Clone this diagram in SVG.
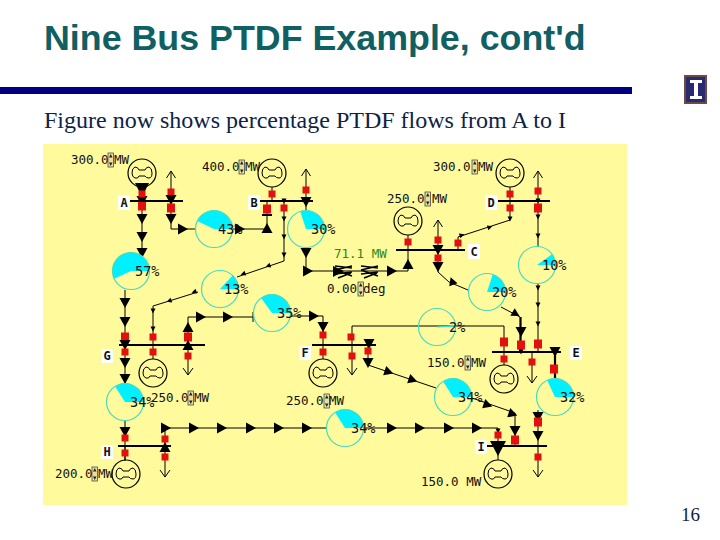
<svg xmlns="http://www.w3.org/2000/svg" width="720" height="540" viewBox="0 0 720 540">
<style>
.t{font-family:"Liberation Serif","Times New Roman",serif;font-size:24px;fill:#0c2444}
.h{font-family:"Liberation Sans",Arial,sans-serif;font-size:35.8px;font-weight:bold;fill:#0f5f63}
.m{font-family:"DejaVu Sans Mono",monospace;font-size:12.5px;fill:#111}
.p{font-family:"DejaVu Sans Mono",monospace;font-size:13.5px;fill:#111}
.l{font-family:"DejaVu Sans Mono",monospace;font-size:12px;font-weight:bold;fill:#111;text-anchor:middle}
.c{fill:none;stroke:#000;stroke-width:1}
.k{fill:none;stroke:#000;stroke-width:2.2}
.b{stroke:#000;stroke-width:2.2}
.pie{fill:none;stroke:#45dcc0;stroke-width:1.2}
.cy{fill:#00f0ff}
.lb{fill:#fff}
</style>
<defs>
<polygon id="d" points="-5.500,-5 5.500,-5 0,5" fill="#000"/>
<polygon id="u" points="-5.500,5 5.500,5 0,-5" fill="#000"/>
<polygon id="r" points="-5,-5.500 5,0 -5,5.500" fill="#000"/>
<polygon id="ds" points="-2.500,-2.500 2.500,-2.500 0,2.500" fill="#000"/>
<polygon id="D" points="-7,-3 7,-3 3,5 -3,5" fill="#000"/>
<rect id="s" x="-3.500" y="-3.500" width="7" height="7" fill="#e41010"/>
<rect id="S" x="-4" y="-4.500" width="8" height="9" fill="#e41010"/>
<path id="open" d="M-4.500,7 L0,0 L4.500,7" fill="none" stroke="#000" stroke-width="1"/>
<path id="openb" d="M-5,-7 L0,0 L5,-7" fill="none" stroke="#000" stroke-width="1"/>
<g id="gen"><circle r="14" fill="none" stroke="#000" stroke-width="1.200"/><path d="M-3,-3 H3 Q4,-6 7,-6 Q10,-5 10,0 Q10,5 7,5 Q4,5 3,3 H-3 Q-4,6 -7,5 Q-10,4 -10,0 Q-10,-5 -7,-6 Q-4,-6 -3,-3Z" fill="none" stroke="#000" stroke-width="1"/></g>
<g id="spin"><rect x="0" y="-11" width="5.500" height="14" fill="#e8e0a0" stroke="#333" stroke-width=".7"/><polygon points="2.750,-10 4.500,-6.500 1,-6.500" fill="#222"/><polygon points="2.750,2 4.500,-1.500 1,-1.500" fill="#222"/></g>
</defs>
<rect width="720" height="540" fill="#fff"/>
<text class="h" x="44" y="50">Nine Bus PTDF Example, cont'd</text>
<rect x="0" y="87" width="632" height="7" fill="#000080"/>
<g id="logo"><rect x="684" y="75" width="23" height="29" fill="#6e4a44"/><rect x="686" y="77" width="19" height="25" fill="#2a2a70"/><path d="M690,80 H702 V83 H698 V96 H702 V99 H690 V96 H694 V83 H690Z" fill="#fff"/></g>
<text class="t" x="44" y="128">Figure now shows percentage PTDF flows from A to I</text>
<text x="681" y="521" style="font-family:'Liberation Serif',serif;font-size:19px" fill="#0c2444">16</text>
<rect x="43" y="144" width="584" height="361" fill="#fffa9c"/>

<g id="connectors">
<path class="c" d="M142,187V253M171,171V229H195.500M232.500,229H267V201"/>
<path class="c" d="M125,290V345M125,345V383.500M125,420.500V446M125,446V461M153,345V359M188,317H253M188,317V375M153,306V345"/>
<path class="c" d="M284,201V261L237,277M198,292L153,306M306,169V210M306,248V271H408V250"/>
<path class="c" d="M272,187V201M408,235V250M438,220V272L449,282L468,290M458,250V237L510,220V201M510,187V201"/>
<path class="c" d="M538,171V247M538,284V352M532,352V383M501,307L520,317M504,352V326H352V375M504,352V365"/>
<path class="k" d="M520.500,317V352M555,352V379"/>
<path class="c" d="M290,316H323V345M323,345V359M368,345V365L436,388M472,398L515,413V446M538,410V477M165,477V428H327M363,428H498V446M498,446V460M125,446V460"/>
<path class="c" d="M253,312V322"/>

<use href="#D" x="142" y="186"/><use href="#d" x="142" y="201"/><use href="#s" x="142" y="194"/><use href="#S" x="142" y="206"/>
<use href="#d" x="142" y="219"/><use href="#d" x="142" y="237"/><use href="#d" x="142" y="253"/>
<use href="#open" x="171" y="171"/><use href="#s" x="171" y="192"/><use href="#d" x="171" y="200"/><use href="#S" x="171" y="208"/><use href="#d" x="171" y="219"/><use href="#r" x="183" y="229"/>
<use href="#r" x="240" y="229"/><use href="#u" x="267" y="228"/><use href="#S" x="267" y="209"/><rect x="262" y="214" width="10" height="2" fill="#000"/>
<use href="#s" x="272" y="194"/><use href="#ds" x="284" y="201"/><use href="#s" x="284" y="208"/><use href="#ds" x="284" y="219"/><use href="#ds" x="284" y="237"/><use href="#ds" x="284" y="255"/>
<use href="#ds" transform="translate(268,266) rotate(70)"/><use href="#ds" transform="translate(243,274) rotate(70)"/><use href="#ds" transform="translate(194,292) rotate(70)"/><use href="#ds" transform="translate(169,301) rotate(70)"/>
<use href="#ds" x="153" y="311"/><use href="#ds" x="153" y="329"/><use href="#s" x="153" y="337"/><use href="#s" x="153" y="352"/>
<use href="#open" x="306" y="169"/><use href="#s" x="306" y="190"/><use href="#d" x="306" y="202"/><use href="#d" x="306" y="253"/><use href="#r" x="308" y="271"/>
<use href="#r" x="392" y="271"/><use href="#u" x="408" y="264"/><use href="#s" x="408" y="242"/>
<use href="#open" x="438" y="220"/><use href="#s" x="438" y="240"/><use href="#d" x="438" y="250"/><use href="#s" x="438" y="258"/><use href="#d" x="438" y="267"/><use href="#u" transform="translate(452,281) rotate(-20) scale(.8)"/>
<use href="#s" x="458" y="243"/><use href="#ds" transform="translate(462,235) rotate(-108)"/><use href="#ds" transform="translate(490,227) rotate(-108)"/><use href="#ds" x="510" y="219"/>
<use href="#s" x="510" y="208"/><use href="#s" x="510" y="194"/>
<use href="#open" x="538" y="171"/><use href="#s" x="538" y="191"/><use href="#ds" x="538" y="201"/><use href="#S" x="538" y="208"/><use href="#ds" x="538" y="217"/><use href="#ds" x="538" y="236"/>
<use href="#ds" x="538" y="288"/><use href="#ds" x="538" y="305"/><use href="#ds" x="538" y="324"/><use href="#S" x="538" y="344"/>
<use href="#d" transform="translate(516,314) rotate(-60) scale(.8)"/><use href="#d" x="521" y="332"/><use href="#S" x="521" y="345"/><use href="#ds" x="521" y="352"/>
<use href="#S" x="504" y="342"/><use href="#s" x="504" y="359"/><use href="#s" x="532" y="362"/><use href="#openb" x="532" y="383"/>
<use href="#s" x="351" y="337"/><use href="#s" x="352" y="356"/><use href="#openb" x="352" y="375"/>
<use href="#d" x="555" y="352"/><use href="#S" x="554" y="369"/>
<use href="#d" x="538" y="417"/><use href="#S" x="538" y="422"/><use href="#d" x="538" y="436"/><use href="#s" x="538" y="457"/><use href="#openb" x="538" y="477"/>
<use href="#r" transform="translate(488,405) rotate(18) scale(.9)"/><use href="#r" transform="translate(513,414) rotate(18) scale(.9)"/><use href="#d" x="515" y="431"/><use href="#S" x="515" y="440"/>
<use href="#d" x="369" y="344"/><use href="#s" x="368" y="351"/><use href="#d" x="368" y="363"/>
<use href="#r" transform="translate(389,372) rotate(18) scale(.9)"/><use href="#r" transform="translate(413,380) rotate(18) scale(.9)"/>
<use href="#s" x="323" y="352"/><use href="#s" x="323" y="335"/><use href="#d" x="323" y="327"/><use href="#r" x="314" y="316"/>
<use href="#r" x="228" y="317"/><use href="#r" x="201" y="317"/><use href="#u" x="188" y="327"/><use href="#S" x="188" y="337"/><use href="#u" x="188" y="345"/><use href="#s" x="188" y="356"/><use href="#openb" x="188" y="375"/>
<use href="#d" x="125" y="303"/><use href="#d" x="125" y="322"/><use href="#S" x="125" y="337"/><use href="#d" x="125" y="345"/><use href="#s" x="125" y="352"/><use href="#d" x="125" y="363"/><use href="#d" x="125" y="379"/>
<use href="#d" x="125" y="432"/><use href="#s" x="125" y="438"/><use href="#s" x="125" y="453"/>
<use href="#openb" x="165" y="477"/><use href="#s" x="165" y="457"/><use href="#u" x="165" y="447"/><use href="#s" x="165" y="439"/>
<use href="#r" x="166" y="428"/><use href="#r" x="194" y="428"/><use href="#r" x="222" y="428"/><use href="#r" x="251" y="428"/><use href="#r" x="279" y="428"/><use href="#r" x="307" y="428"/>
<use href="#r" x="392" y="428"/><use href="#r" x="420" y="428"/><use href="#r" x="449" y="428"/><use href="#r" x="477" y="428"/>
<use href="#ds" x="498" y="431"/><use href="#s" x="498" y="435"/><polygon points="490,441 506,441 498,456" fill="#000"/>
</g>

<g id="phase-shifter" fill="none" stroke="#000" stroke-width="1.400">
<path d="M335,266L352,268M335,274L352,272M335,270L352,266M335,270L352,276M338,278L351,273"/>
<path d="M361,266L378,268M361,274L378,272M361,270L378,266M361,270L378,276M364,278L377,273"/>
<polygon points="333,266 344,271 333,277" fill="#000" stroke="none"/>
</g>
<text class="m" x="334" y="258" style="fill:#2a8a10">71.1 MW</text>
<text class="m" x="327" y="293">0.00</text><use href="#spin" x="358" y="293"/><text class="m" x="363" y="293">deg</text>

<g id="bus-A"><rect class="lb" x="118" y="195" width="12" height="15"/><text class="l" x="124" y="207">A</text><line class="b" x1="130" y1="201" x2="183" y2="201"/><use href="#gen" x="142" y="173"/><text class="m" x="71" y="164">300.0</text><use href="#spin" x="108" y="164"/><text class="m" x="114" y="164">MW</text></g>
<g id="bus-B"><rect class="lb" x="248" y="195" width="12" height="15"/><text class="l" x="254" y="207">B</text><line class="b" x1="260" y1="201" x2="313" y2="201"/><use href="#gen" x="272" y="173"/><text class="m" x="202" y="171">400.0</text><use href="#spin" x="239" y="171"/><text class="m" x="245" y="171">MW</text></g>
<g id="bus-C"><rect class="lb" x="468" y="244" width="12" height="15"/><text class="l" x="474" y="256">C</text><line class="b" x1="396" y1="250" x2="465" y2="250"/><use href="#gen" x="408" y="221"/><text class="m" x="387" y="203">250.0</text><use href="#spin" x="425" y="203"/><text class="m" x="432" y="203">MW</text></g>
<g id="bus-D"><rect class="lb" x="485" y="195" width="12" height="15"/><text class="l" x="491" y="207">D</text><line class="b" x1="498" y1="201" x2="550" y2="201"/><use href="#gen" x="510" y="173"/><text class="m" x="433" y="171">300.0</text><use href="#spin" x="472" y="171"/><text class="m" x="478" y="171">MW</text></g>
<g id="bus-E"><rect class="lb" x="570" y="346" width="12" height="14"/><text class="l" x="576" y="357">E</text><line class="b" x1="492" y1="352" x2="561" y2="352"/><use href="#gen" x="504" y="379"/><text class="m" x="427" y="367">150.0</text><use href="#spin" x="465" y="367"/><text class="m" x="471" y="367">MW</text></g>
<g id="bus-F"><rect class="lb" x="299" y="346" width="12" height="14"/><text class="l" x="305" y="357">F</text><line class="b" x1="312" y1="345" x2="376" y2="345"/><use href="#gen" x="323" y="373"/><text class="m" x="286" y="405">250.0</text><use href="#spin" x="324" y="405"/><text class="m" x="329" y="405">MW</text></g>
<g id="bus-G"><rect class="lb" x="101" y="349" width="12" height="14"/><text class="l" x="107" y="360">G</text><line class="b" x1="119" y1="345" x2="205" y2="345"/><use href="#gen" x="153" y="373"/><text class="m" x="151" y="402">250.0</text><use href="#spin" x="188" y="402"/><text class="m" x="194" y="402">MW</text></g>
<g id="bus-H"><rect class="lb" x="101" y="445" width="12" height="14"/><text class="l" x="107" y="456">H</text><line class="b" x1="118" y1="446" x2="171" y2="446"/><use href="#gen" x="126" y="474"/><text class="m" x="55" y="478">200.0</text><use href="#spin" x="92" y="478"/><text class="m" x="98" y="478">MW</text></g>
<g id="bus-I"><rect class="lb" x="475" y="440" width="12" height="14"/><text class="l" x="481" y="451">I</text><line class="b" x1="487" y1="446" x2="547" y2="446"/><use href="#gen" x="498" y="474"/><text class="m" x="421" y="486">150.0 MW</text></g>

<g id="pie-57"><path class="cy" d="M131,271L114.260,278.870A18.500,18.500 0 1 1 149.500,271Z"/><circle class="pie" cx="131" cy="271" r="18.500"/><text class="p" x="135" y="276">57%</text></g>
<g id="pie-43"><path class="cy" d="M214,229L197.260,221.120A18.500,18.500 0 0 1 232.500,229Z"/><circle class="pie" cx="214" cy="229" r="18.500"/><text class="p" x="218" y="234">43%</text></g>
<g id="pie-30"><path class="cy" d="M306,229L300.280,211.410A18.500,18.500 0 0 1 324.500,229Z"/><circle class="pie" cx="306" cy="229" r="18.500"/><text class="p" x="311" y="234">30%</text></g>
<g id="pie-13"><path class="cy" d="M220,289L232.670,275.510A18.500,18.500 0 0 1 238.500,289Z"/><circle class="pie" cx="220" cy="289" r="18.500"/><text class="p" x="224" y="294">13%</text></g>
<g id="pie-35"><path class="cy" d="M272,313L261.130,298.030A18.500,18.500 0 0 1 290.500,313Z"/><circle class="pie" cx="272" cy="313" r="18.500"/><text class="p" x="277" y="318">35%</text></g>
<g id="pie-10"><path class="cy" d="M537,265L551.970,254.130A18.500,18.500 0 0 1 555.500,265Z"/><circle class="pie" cx="537" cy="265" r="18.500"/><text class="p" x="542" y="270">10%</text></g>
<g id="pie-20"><path class="cy" d="M487,292L492.720,274.410A18.500,18.500 0 0 1 505.500,292Z"/><circle class="pie" cx="487" cy="292" r="18.500"/><text class="p" x="492" y="297">20%</text></g>
<g id="pie-2"><path class="cy" d="M437,327L455.350,324.680A18.500,18.500 0 0 1 455.500,327Z"/><circle class="pie" cx="437" cy="327" r="18.500"/><line x1="437" y1="327" x2="455" y2="326" stroke="#45dcc0"/><text class="p" x="449" y="332">2%</text></g>
<g id="pie-34a"><path class="cy" d="M125,402L115.090,386.380A18.500,18.500 0 0 1 143.500,402Z"/><circle class="pie" cx="125" cy="402" r="18.500"/><text class="p" x="130" y="407">34%</text></g>
<g id="pie-34b"><path class="cy" d="M453,397L443.090,381.380A18.500,18.500 0 0 1 471.500,397Z"/><circle class="pie" cx="453" cy="397" r="18.500"/><text class="p" x="458" y="402">34%</text></g>
<g id="pie-32"><path class="cy" d="M555,397L547.120,380.260A18.500,18.500 0 0 1 573.500,397Z"/><circle class="pie" cx="555" cy="397" r="18.500"/><text class="p" x="560" y="402">32%</text></g>
<g id="pie-34c"><path class="cy" d="M345,428L335.090,412.380A18.500,18.500 0 0 1 363.500,428Z"/><circle class="pie" cx="345" cy="428" r="18.500"/><text class="p" x="351" y="433">34%</text></g>
</svg>
